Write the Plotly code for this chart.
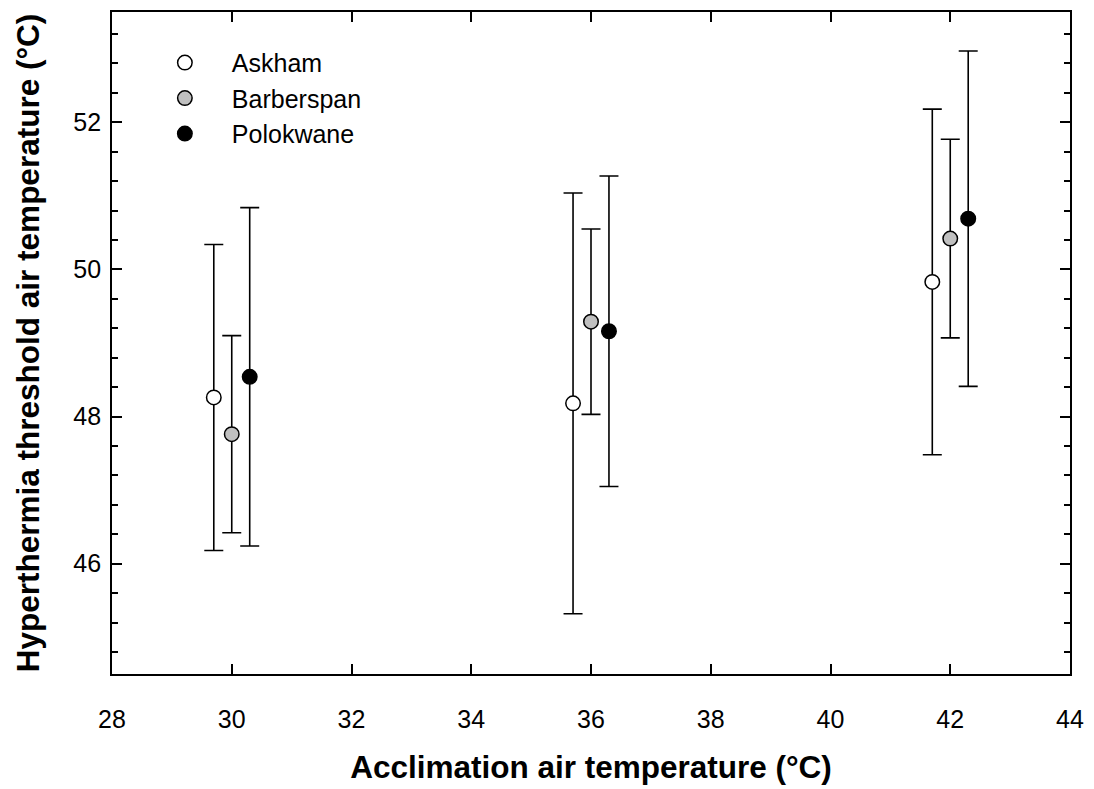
import plotly.graph_objects as go

# ---- data ----
populations = ["Askham", "Barberspan", "Polokwane"]
askham_x = [29.7, 35.7, 41.7]
askham_y = [48.26, 48.18, 49.83]
askham_err = [2.08, 2.86, 2.35]
barberspan_x = [30.0, 36.0, 42.0]
barberspan_y = [47.76, 49.29, 50.42]
barberspan_err = [1.34, 1.26, 1.35]
polokwane_x = [30.3, 36.3, 42.3]
polokwane_y = [48.54, 49.16, 50.69]
polokwane_err = [2.30, 2.11, 2.28]

x_tick_vals = [28, 30, 32, 34, 36, 38, 40, 42, 44]
y_tick_vals = [46, 48, 50, 52]

series = [
    (populations[0], askham_x, askham_y, askham_err, "white"),
    (populations[1], barberspan_x, barberspan_y, barberspan_err, "#c0c0c0"),
    (populations[2], polokwane_x, polokwane_y, polokwane_err, "black"),
]

FONT = "Arial, Liberation Sans, sans-serif"

fig = go.Figure()
for name, xs, ys, errs, col in series:
    fig.add_trace(go.Scatter(
        x=xs, y=ys, name=name, mode="markers",
        marker=dict(size=14.5, color=col, line=dict(color="black", width=1.5)),
        error_y=dict(type="data", array=errs, visible=True,
                     color="black", thickness=1.6, width=9.5),
    ))

axis_common = dict(
    showline=True, linecolor="black", linewidth=1.8, mirror="ticks",
    ticks="inside", ticklen=10, tickwidth=1.8, tickcolor="black",
    showgrid=False, zeroline=False,
    tickfont=dict(family=FONT, size=25, color="black"),
)

fig.update_xaxes(
    range=[28, 44], tickvals=x_tick_vals, ticktext=[str(v) for v in x_tick_vals],
    title=dict(text="Acclimation air temperature (°C)",
               font=dict(family=FONT, size=31.5, color="black", weight="bold"),
               standoff=24),
    ticklabelstandoff=22,
    **axis_common,
)
fig.update_yaxes(
    range=[44.5, 53.5], tickvals=y_tick_vals, ticktext=[str(v) for v in y_tick_vals],
    title=dict(text="Hyperthermia threshold air temperature (°C)",
               font=dict(family=FONT, size=31.5, color="black", weight="bold"),
               standoff=24),
    ticklabelstandoff=4,
    minor=dict(dtick=0.4, tick0=46, ticks="inside", ticklen=6,
               tickwidth=1.5, tickcolor="black", showgrid=False),
    **axis_common,
)

fig.update_layout(
    width=1094, height=789,
    margin=dict(l=112, r=18, t=10, b=107),
    paper_bgcolor="white", plot_bgcolor="white",
    showlegend=True,
    legend=dict(x=0.027, y=0.958, xanchor="left", yanchor="top",
                font=dict(family=FONT, size=25, color="black"),
                bgcolor="rgba(0,0,0,0)", borderwidth=0,
                itemwidth=84, tracegroupgap=0),
    font=dict(family=FONT, color="black"),
)

fig.write_html("out.html")
